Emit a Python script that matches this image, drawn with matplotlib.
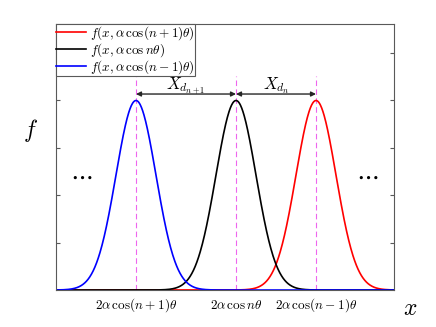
import matplotlib
matplotlib.use("Agg")
import matplotlib.pyplot as plt
import numpy as np

plt.rcParams["mathtext.fontset"] = "cm"
plt.rcParams["font.family"] = "DejaVu Serif"

# peak centres (black centre at 0), common width
centers = [4.0, 0.0, -5.0]
sigma = 1.0
colors = ["red", "black", "blue"]
labels = [
    r"$f(x,\alpha\,\cos(n+1)\theta)$",
    r"$f(x,\alpha\,\cos n\theta)$",
    r"$f(x,\alpha\,\cos(n-1)\theta)$",
]
tick_pos = [-5.0, 0.0, 4.0]
tick_labels = [
    r"$2\alpha\,\cos(n+1)\theta$",
    r"$2\alpha\,\cos n\theta$",
    r"$2\alpha\,\cos(n-1)\theta$",
]

x = np.linspace(-9, 7.9, 800)

fig = plt.figure(figsize=(4.36, 3.27), dpi=100)
ax = fig.add_axes([0.1284, 0.1131, 0.7753, 0.8135])

for c, col, lab in zip(centers, colors, labels):
    y = np.exp(-0.5 * ((x - c) / sigma) ** 2) / (sigma * np.sqrt(2 * np.pi))
    ax.plot(x, y, color=col, lw=1.2, label=lab)

for c in tick_pos:
    ax.plot([c, c], [0, 0.45], ls=(0, (5, 3)), color="#ee66ee", lw=0.8, zorder=1)

# double arrows between peaks
ya = 0.4126
for a, b in [(tick_pos[0], tick_pos[1]), (tick_pos[1], tick_pos[2])]:
    ax.annotate("", xy=(a, ya), xytext=(b, ya),
                arrowprops=dict(arrowstyle="<|-|>", color="0.15", lw=1.0,
                                mutation_scale=7, shrinkA=0, shrinkB=0))
ax.text((tick_pos[0] + tick_pos[1]) / 2, 0.422, r"$X_{d_{n+1}}$",
        ha="center", va="baseline", fontsize=12)
ax.text((tick_pos[1] + tick_pos[2]) / 2, 0.422, r"$X_{d_n}$",
        ha="center", va="baseline", fontsize=12)

ax.text(-7.75, 0.24, r"$\cdots$", ha="center", va="center", fontsize=18)
ax.text(6.55, 0.24, r"$\cdots$", ha="center", va="center", fontsize=18)

ax.set_xlim(-9, 7.9)
ax.set_ylim(0, 0.56)
ax.set_xticks(tick_pos)
ax.set_xticklabels(tick_labels, fontsize=9.5, va="baseline")
ax.set_yticks([0.1, 0.2, 0.3, 0.4, 0.5])
ax.set_yticklabels([])
ax.tick_params(direction="in", length=3, color="0.35", right=True, top=False)
ax.tick_params(axis="x", length=0, pad=13.5)
for s in ax.spines.values():
    s.set_color("0.35")
    s.set_linewidth(0.8)

fig.text(0.069, 0.60, r"$f$", fontsize=17, ha="center", va="center")
fig.text(0.94, 0.058, r"$x$", fontsize=17, ha="center", va="center")

leg = ax.legend(loc="upper left", fontsize=9.5, borderaxespad=0, fancybox=False,
                edgecolor="0.35", handlelength=2.3, borderpad=0.0,
                labelspacing=-0.05, handletextpad=0.3, framealpha=1)
leg.get_frame().set_linewidth(0.8)
leg.set_zorder(5)

fig.savefig("out.png", dpi=100)
